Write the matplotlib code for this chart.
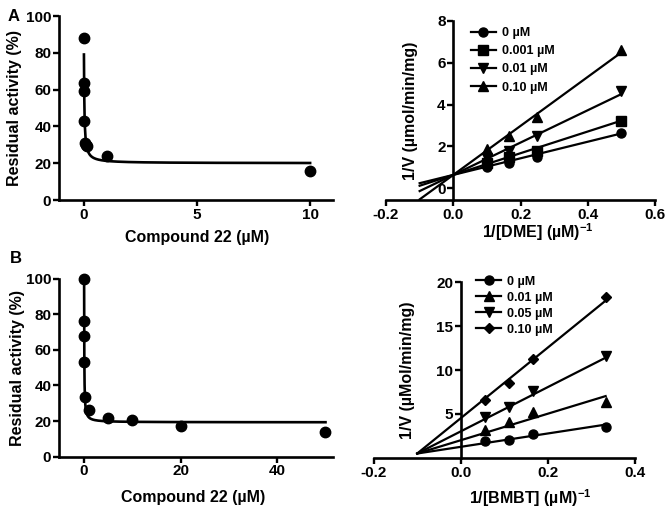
import numpy as np
import matplotlib
matplotlib.use("Agg")
import matplotlib.pyplot as plt

plt.rcParams['font.family'] = ['Liberation Sans', 'DejaVu Sans']
plt.rcParams['font.weight'] = 'bold'
plt.rcParams['axes.labelweight'] = 'bold'
plt.rcParams['axes.unicode_minus'] = False
plt.rcParams['mathtext.fontset'] = 'custom'
plt.rcParams['mathtext.bf'] = 'Liberation Sans:bold'
plt.rcParams['mathtext.rm'] = 'Liberation Sans:bold'
plt.rcParams['mathtext.default'] = 'bf'

# --- A: Compound 22 dose response (DME) ---
a_dose_x = [0.001, 0.005, 0.01, 0.02, 0.05, 0.1, 0.15, 1.0, 10.0]
a_dose_y = [88, 63.5, 59.5, 43, 31, 30, 29.5, 24, 16]
a_fit = dict(top=85, bottom=20, ic50=0.02)   # fitted curve parameters
a_fit_range = (0.002, 10)

# --- A: Lineweaver-Burk (DME) ---
a_lb_x = [0.1, 0.167, 0.25, 0.5]
a_lb_labels = ['0 µM', '0.001 µM', '0.01 µM', '0.10 µM']
a_lb_y = [
    [1.03, 1.19, 1.51, 2.65],
    [1.2, 1.5, 1.8, 3.23],
    [1.45, 1.8, 2.5, 4.64],
    [1.88, 2.5, 3.42, 6.6],
]
a_lb_slope = [3.96, 5.18, 7.72, 11.7]
a_lb_icpt = [0.64, 0.64, 0.64, 0.64]
a_lb_markers = ['o', 's', 'v', '^']

# --- B: Compound 22 dose response (BMBT) ---
b_dose_x = [0.001, 0.005, 0.01, 0.05, 0.1, 1, 5, 10, 20, 50]
b_dose_y = [100, 76.5, 68, 53, 33.5, 26, 22, 20.7, 17.4, 14]
b_fit = dict(top=100, bottom=19.3, ic50=0.035)
b_fit_range = (0.001, 50)

# --- B: Lineweaver-Burk (BMBT) ---
b_lb_x = [0.0556, 0.111, 0.167, 0.333]
b_lb_labels = ['0 µM', '0.01 µM', '0.05 µM', '0.10 µM']
b_lb_y = [
    [1.94, 2.05, 2.7, 3.57],
    [3.15, 4.06, 5.2, 6.38],
    [4.63, 5.85, 7.67, 11.55],
    [6.57, 8.58, 11.24, 18.34],
]
b_lb_slope = [7.6, 15.1, 25.2, 40.2]
b_lb_icpt = [1.26, 2.01, 3.02, 4.52]
b_lb_markers = ['o', '^', 'v', 'D']

LW = 1.6
FS_TICK = 11
FS_LAB = 11.5


def style(ax):
    for s in ['top', 'right']:
        ax.spines[s].set_visible(False)
    for s in ['left', 'bottom']:
        ax.spines[s].set_linewidth(1.9)
    ax.tick_params(direction='out', length=4, width=1.7, labelsize=FS_TICK, pad=1.5)
    for t in ax.get_xticklabels() + ax.get_yticklabels():
        t.set_fontweight('bold')


def dose_panel(ax, xs, ys, fit, rng):
    t = np.geomspace(rng[0], rng[1], 400)
    curve = fit['bottom'] + (fit['top'] - fit['bottom']) / (1 + t / fit['ic50'])
    ax.plot(t, curve, color='black', lw=LW + 0.3)
    ax.plot(xs, ys, 'o', color='black', ms=7.5, clip_on=False)
    ax.set_ylim(0, 100)
    ax.set_yticks([0, 20, 40, 60, 80, 100])
    ax.set_ylabel('Residual activity (%)', fontsize=FS_LAB)
    ax.set_xlabel('Compound 22 (µM)', fontsize=FS_LAB)
    style(ax)


def lb_panel(ax, xs, ys, slopes, icpts, markers, labels, x0):
    for y, m, b, mk, lab in zip(ys, slopes, icpts, markers, labels):
        t = np.array([x0, xs[-1]])
        ms = 6.5 if mk != 'D' else 5
        ax.plot(t, b + m * t, color='black', lw=LW)
        ax.plot(xs, y, mk, color='black', ms=ms)
        ax.plot([], [], color='black', lw=LW, marker=mk, ms=ms, label=lab)
    ax.spines['left'].set_position(('data', 0))
    style(ax)


def legend(ax, anchor, spacing):
    ax.legend(loc='upper left', bbox_to_anchor=anchor, frameon=False,
              fontsize=9, handlelength=2.0, handletextpad=0.5,
              labelspacing=spacing, borderaxespad=0, borderpad=0.4)


fig = plt.figure(figsize=(6.66, 5.09), dpi=100)

# A left
ax1 = fig.add_axes([0.0886, 0.607, 0.411, 0.3615])
dose_panel(ax1, a_dose_x, a_dose_y, a_fit, a_fit_range)
ax1.set_xlim(-1.1, 11)
ax1.set_xticks([0, 5, 10])
ax1.yaxis.set_label_coords(-0.134, 0.5)
ax1.xaxis.set_label_coords(0.504, -0.163)

# A right
ax2 = fig.add_axes([0.5796, 0.607, 0.404, 0.3523])
lb_panel(ax2, a_lb_x, a_lb_y, a_lb_slope, a_lb_icpt, a_lb_markers, a_lb_labels, -0.1)
ax2.set_xlim(-0.2, 0.6)
ax2.set_ylim(-0.56, 8)
ax2.set_xticks([-0.2, 0.0, 0.2, 0.4, 0.6])
ax2.set_xticklabels(['-0.2', '0.0', '0.2', '0.4', '0.6'])
ax2.set_yticks([0, 2, 4, 6, 8])
ax2.set_xlabel(r'1/[DME] (µM)$^{-1}$', fontsize=FS_LAB)
ax2.set_ylabel('1/V (µmol/min/mg)', fontsize=FS_LAB)
ax2.yaxis.set_label_coords(0.119, 0.5)
ax2.xaxis.set_label_coords(0.565, -0.12)
legend(ax2, (0.297, 0.993), 0.5)

# B left
ax3 = fig.add_axes([0.0886, 0.1028, 0.411, 0.3497])
dose_panel(ax3, b_dose_x, b_dose_y, b_fit, b_fit_range)
ax3.set_xlim(-5.2, 51.5)
ax3.set_xticks([0, 20, 40])
ax3.yaxis.set_label_coords(-0.124, 0.5)
ax3.xaxis.set_label_coords(0.49, -0.19)

# B right
ax4 = fig.add_axes([0.5611, 0.1004, 0.392, 0.345])
lb_panel(ax4, b_lb_x, b_lb_y, b_lb_slope, b_lb_icpt, b_lb_markers, b_lb_labels, -0.1)
ax4.set_xlim(-0.2, 0.4)
ax4.set_ylim(0, 20)
ax4.set_xticks([-0.2, 0.0, 0.2, 0.4])
ax4.set_xticklabels(['-0.2', '0.0', '0.2', '0.4'])
ax4.set_yticks([5, 10, 15, 20])
ax4.set_xlabel(r'1/[BMBT] (µM)$^{-1}$', fontsize=FS_LAB)
ax4.set_ylabel('1/V (µMol/min/mg)', fontsize=FS_LAB)
ax4.yaxis.set_label_coords(0.158, 0.5)
ax4.xaxis.set_label_coords(0.6, -0.17)
legend(ax4, (0.373, 1.066), 0.32)

fig.text(0.012, 0.968, 'A', fontsize=12, fontweight='bold', va='center')
fig.text(0.015, 0.492, 'B', fontsize=12, fontweight='bold', va='center')

fig.savefig('out.png', dpi=100)
